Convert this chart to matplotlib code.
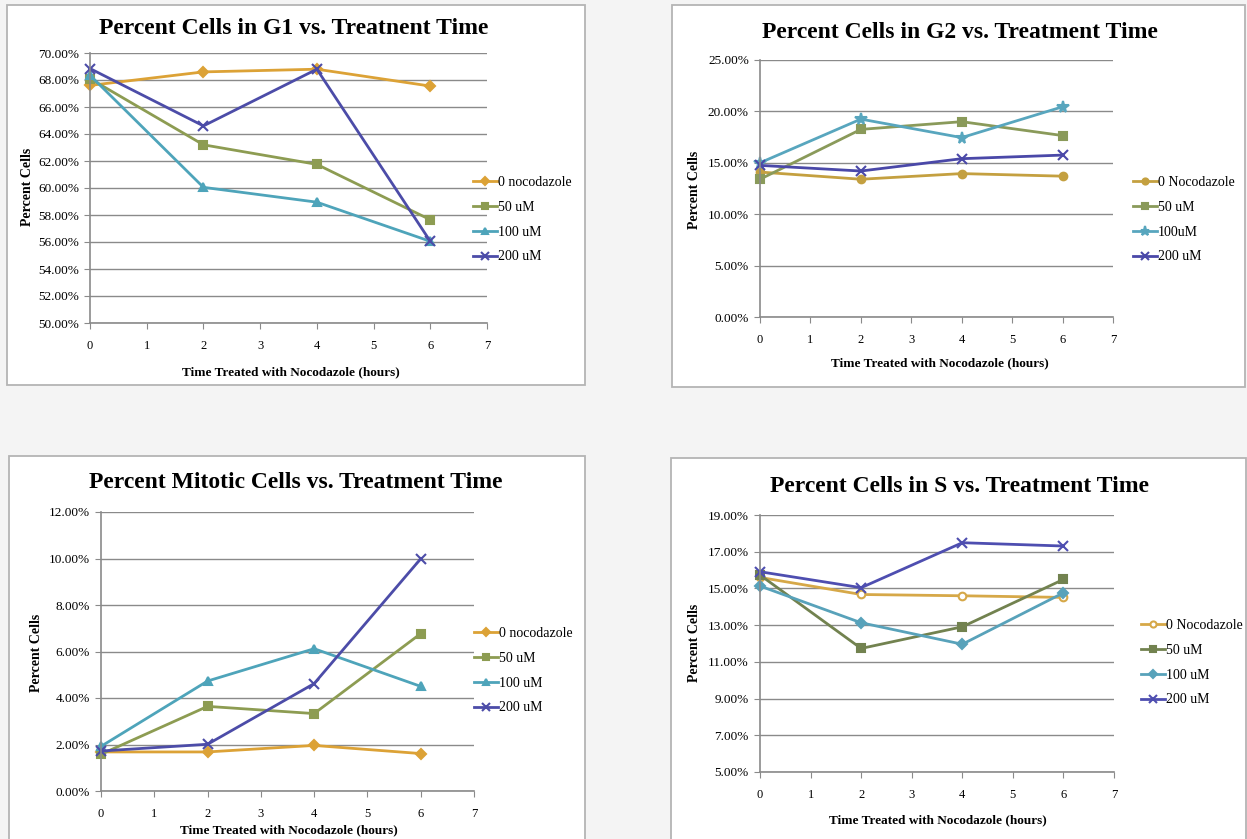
import numpy as np
import matplotlib.pyplot as plt
from matplotlib.patches import Rectangle
from matplotlib.ticker import FuncFormatter, MultipleLocator, FixedLocator

plt.rcParams['font.family'] = ['Liberation Serif', 'DejaVu Serif']

hours = [0, 2, 4, 6]

# percent of cells, one row per nocodazole dose
g1_labels = ["0 nocodazole", "50 uM", "100 uM", "200 uM"]
g1_vals = [[67.6, 68.6, 68.8, 67.55],
           [68.1, 63.2, 61.75, 57.65],
           [68.35, 60.05, 58.95, 56.05],
           [68.85, 64.6, 68.8, 56.05]]

g2_labels = ["0 Nocodazole", "50 uM", "100uM", "200 uM"]
g2_vals = [[14.1, 13.4, 13.95, 13.7],
           [13.4, 18.25, 19.0, 17.65],
           [15.0, 19.25, 17.45, 20.45],
           [14.75, 14.2, 15.4, 15.75]]

mit_labels = ["0 nocodazole", "50 uM", "100 uM", "200 uM"]
mit_vals = [[1.68, 1.68, 1.96, 1.61],
            [1.58, 3.64, 3.33, 6.77],
            [1.92, 4.73, 6.12, 4.5],
            [1.72, 2.01, 4.62, 9.99]]

s_labels = ["0 Nocodazole", "50 uM", "100 uM", "200 uM"]
s_vals = [[15.6, 14.67, 14.6, 14.51],
          [15.73, 11.73, 12.91, 15.49],
          [15.13, 13.13, 11.96, 14.76],
          [15.91, 15.04, 17.49, 17.31]]

W, H = 1247, 839
fig = plt.figure(figsize=(W / 100, H / 100), dpi=100, facecolor='#f4f4f4')

colors = ['#dca236', '#8d9c52', '#4ea4ba', '#4c4ca8']
msizes = {'x': 7, '*': 8.5}


def fx(x):
    return x / W


def fy(y):
    return 1 - y / H


def panel(box, axbox, title, tpos, ylpos, xlpos, ylim, ystep, vals, labels,
          markers, legpos, cols=colors, open_first=False):
    bx0, bx1, by0, by1 = box
    fig.patches.append(Rectangle((fx(bx0), fy(by1)), fx(bx1 - bx0), (by1 - by0) / H,
                                 transform=fig.transFigure, facecolor='white',
                                 edgecolor='#b4b4b4', lw=1.3, zorder=-1))
    x0, x1, y0, y1 = axbox
    ax = fig.add_axes([fx(x0), fy(y1), fx(x1 - x0), (y1 - y0) / H])
    ax.set_facecolor('white')
    for i, (v, lab, m, c) in enumerate(zip(vals, labels, markers, cols)):
        mfc = 'white' if (open_first and i == 0) else c
        ax.plot(hours, v, color=c, lw=2, marker=m, ms=msizes.get(m, 5.5),
                mfc=mfc, mec=c, mew=1.5, label=lab, clip_on=False)
    ax.set_xlim(0, 7)
    ax.set_ylim(*ylim)
    ax.xaxis.set_major_locator(MultipleLocator(1))
    ax.yaxis.set_major_locator(FixedLocator(np.arange(ylim[0], ylim[1] + 0.01, ystep)))
    ax.yaxis.set_major_formatter(FuncFormatter(lambda v, p: f"{v:.2f}%"))
    ax.grid(axis='y', color='#8a8a8a', lw=1)
    ax.set_axisbelow(True)
    for s in ['top', 'right']:
        ax.spines[s].set_visible(False)
    for s in ['left', 'bottom']:
        ax.spines[s].set_color('#8a8a8a')
        ax.spines[s].set_linewidth(1.2)
    ax.tick_params(axis='x', length=4, color='#8a8a8a', labelsize=9, pad=8)
    ax.tick_params(axis='y', length=4, color='#8a8a8a', labelsize=9.5, pad=4)
    fig.text(fx(tpos[0]), fy(tpos[1]), title, ha='center', va='center',
             fontsize=17, fontweight='bold')
    fig.text(fx(ylpos[0]), fy(ylpos[1]), "Percent Cells", ha='center', va='center',
             rotation=90, fontsize=10, fontweight='bold')
    fig.text(fx(xlpos[0]), fy(xlpos[1]), "Time Treated with Nocodazole (hours)",
             ha='center', va='center', fontsize=9.5, fontweight='bold')
    ax.legend(loc='upper left', bbox_to_anchor=(fx(legpos[0]), fy(legpos[1])),
              bbox_transform=fig.transFigure, frameon=False, fontsize=10,
              handlelength=1.7, handletextpad=0.1, labelspacing=0.85,
              borderpad=0, borderaxespad=0, markerscale=0.8)
    return ax


panel((7, 585, 5, 385), (90, 487, 53, 323),
      "Percent Cells in G1 vs. Treatnent Time", (294, 29), (28, 187), (291, 372),
      (50, 70), 2, g1_vals, g1_labels, ['D', 's', '^', 'x'], (473, 176))

panel((672, 1245, 5, 387), (760, 1113, 60, 317),
      "Percent Cells in G2 vs. Treatment Time", (960, 32), (695, 190), (940, 363),
      (0, 25), 5, g2_vals, g2_labels, ['o', 's', '*', 'x'], (1133, 176),
      cols=['#c4a040', '#8a9a5a', '#58a6be', '#4a48a8'])

panel((9, 585, 456, 850), (101, 474, 512, 791),
      "Percent Mitotic Cells vs. Treatment Time", (296, 483), (36, 653), (289, 830),
      (0, 12), 2, mit_vals, mit_labels, ['D', 's', '^', 'x'], (474, 627))

panel((671, 1246, 458, 850), (760, 1114, 515, 772),
      "Percent Cells in S vs. Treatment Time", (960, 487), (695, 643), (938, 820),
      (5, 19), 2, s_vals, s_labels, ['o', 's', 'D', 'x'], (1141, 619),
      cols=['#d6a848', '#72824f', '#58a2ba', '#4e4eb0'], open_first=True)

fig.savefig("out.png", dpi=100, facecolor=fig.get_facecolor())
